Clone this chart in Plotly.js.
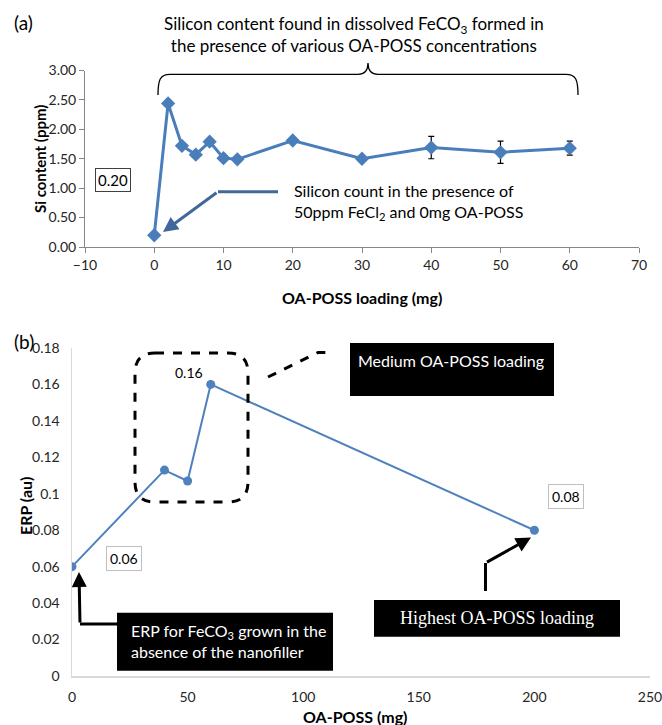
<!DOCTYPE html>
<html>
<head>
<meta charset="utf-8">
<script src="https://cdn.plot.ly/plotly-3.0.1.min.js"></script>
<style>html,body{margin:0;padding:0;background:#fff;}#chart{width:662px;height:725px;}</style>
</head>
<body>
<div id="chart"></div>
<script>
// ---- data ----
const siLoading = [0, 2, 4, 6, 8, 10, 12, 20, 30, 40, 50, 60];
const siContent = [0.20, 2.44, 1.72, 1.57, 1.79, 1.51, 1.49, 1.81, 1.50, 1.69, 1.61, 1.68];
const siError = [null, null, null, null, null, null, null, null, null, 0.19, 0.19, 0.12];
const topXTicks = [-10, 0, 10, 20, 30, 40, 50, 60, 70];
const topYTicks = [0, 0.5, 1, 1.5, 2, 2.5, 3];

const erpLoading = [0, 40, 50, 60, 200];
const erpValue = [0.06, 0.113, 0.107, 0.16, 0.08];
const botXTicks = [0, 50, 100, 150, 200, 250];
const botYTicks = [0, 0.02, 0.04, 0.06, 0.08, 0.1, 0.12, 0.14, 0.16, 0.18];

// ---- helpers (pixel -> paper) ----
const W = 662, H = 725;
const fx = x => x / W;
const fy = y => 1 - y / H;
const P = (x, y) => fx(x) + ',' + fy(y);
const FONT = 'Lato, "Open Sans", sans-serif';

const traces = [
  {
    x: siLoading, y: siContent, xaxis: 'x', yaxis: 'y', type: 'scatter', mode: 'lines+markers',
    line: {color: '#4a7ebb', width: 3},
    marker: {symbol: 'diamond', size: 11, color: '#4a7ebb'},
    error_y: {type: 'data', array: siError, visible: true, color: '#000', thickness: 1.2, width: 3},
    hoverinfo: 'x+y'
  },
  {
    x: erpLoading, y: erpValue, xaxis: 'x2', yaxis: 'y2', type: 'scatter', mode: 'lines+markers',
    line: {color: '#4f81bd', width: 2},
    marker: {symbol: 'circle', size: 9, color: '#4f81bd'},
    hoverinfo: 'x+y'
  }
];

const tickFont = {family: FONT, size: 14, color: '#262626'};

function txt(x, y, text, opts) {
  return Object.assign({xref: 'paper', yref: 'paper', x: fx(x), y: fy(y), text: text,
    showarrow: false, xanchor: 'center', yanchor: 'middle'}, opts || {});
}

const layout = {
  width: W, height: H,
  margin: {l: 0, r: 0, t: 0, b: 0},
  paper_bgcolor: '#fff', plot_bgcolor: '#fff',
  showlegend: false,
  font: {family: FONT},
  xaxis: {
    domain: [fx(85), fx(639)], range: [-10, 70], anchor: 'y',
    tickvals: topXTicks, showgrid: false, zeroline: false,
    showline: true, linecolor: '#868686', linewidth: 1,
    ticks: 'outside', ticklen: 5, tickcolor: '#868686',
    tickfont: tickFont, ticklabeloverflow: 'allow'
  },
  yaxis: {
    domain: [fy(247), fy(70.5)], range: [0, 3], anchor: 'x',
    tickvals: topYTicks, tickformat: '.2f', showgrid: false, zeroline: false,
    showline: true, linecolor: '#868686', linewidth: 1,
    ticks: 'outside', ticklen: 5, tickcolor: '#868686',
    tickfont: tickFont
  },
  xaxis2: {
    domain: [fx(72), fx(650)], range: [0, 250], anchor: 'y2',
    tickvals: botXTicks, showgrid: false, zeroline: false,
    showline: true, linecolor: '#d9d9d9', linewidth: 1.5,
    ticks: '', ticklabelstandoff: 8,
    tickfont: tickFont, ticklabeloverflow: 'allow'
  },
  yaxis2: {
    domain: [fy(676), fy(348)], range: [0, 0.18], anchor: 'x2',
    tickvals: botYTicks, showgrid: false, zeroline: false,
    showline: true, linecolor: '#d9d9d9', linewidth: 1.5,
    ticks: '', ticklabelstandoff: 8,
    tickfont: tickFont
  },
  shapes: [
    // curly bracket
    {type: 'path', xref: 'paper', yref: 'paper', line: {color: '#000', width: 1.3},
     path: 'M' + P(158, 95) + ' C' + P(158, 80) + ' ' + P(160, 74.3) + ' ' + P(170, 74.3) +
           ' L' + P(358, 74.3) + ' C' + P(365, 74.3) + ' ' + P(368, 70) + ' ' + P(368, 63) +
           ' C' + P(368, 70) + ' ' + P(371, 74.3) + ' ' + P(378, 74.3) +
           ' L' + P(566, 74.3) + ' C' + P(576, 74.3) + ' ' + P(578, 80) + ' ' + P(578, 95)},
    // top arrow horizontal part
    {type: 'path', xref: 'paper', yref: 'paper', line: {color: '#41689b', width: 3},
     path: 'M' + P(278, 191.7) + ' L' + P(218, 191.7)},
    // dashed rounded rectangle
    {type: 'path', xref: 'paper', yref: 'paper', line: {color: '#000', width: 3, dash: 'dash'},
     path: 'M' + P(155, 353) + ' L' + P(228, 353) + ' Q' + P(248, 353) + ' ' + P(248, 373) +
           ' L' + P(248, 482) + ' Q' + P(248, 502) + ' ' + P(228, 502) +
           ' L' + P(155, 502) + ' Q' + P(135, 502) + ' ' + P(135, 482) +
           ' L' + P(135, 373) + ' Q' + P(135, 353) + ' ' + P(155, 353) + ' Z'},
    // dashed connector
    {type: 'path', xref: 'paper', yref: 'paper', line: {color: '#000', width: 3, dash: 'dash'},
     path: 'M' + P(268, 377) + ' L' + P(318, 352.5) + ' L' + P(334, 352.5)},
    // black boxes
    {type: 'rect', xref: 'paper', yref: 'paper', x0: fx(350), x1: fx(554), y0: fy(343), y1: fy(396),
     fillcolor: '#000', line: {width: 0}},
    {type: 'rect', xref: 'paper', yref: 'paper', x0: fx(117), x1: fx(333), y0: fy(612.7), y1: fy(670.7),
     fillcolor: '#000', line: {width: 0}},
    {type: 'rect', xref: 'paper', yref: 'paper', x0: fx(374), x1: fx(620), y0: fy(600), y1: fy(636.7),
     fillcolor: '#000', line: {width: 0}},
    // bottom arrows, straight parts
    {type: 'path', xref: 'paper', yref: 'paper', line: {color: '#000', width: 3},
     path: 'M' + P(117, 624) + ' L' + P(80, 624)},
    {type: 'path', xref: 'paper', yref: 'paper', line: {color: '#000', width: 3},
     path: 'M' + P(485.5, 591) + ' L' + P(485.5, 563)}
  ],
  annotations: [
    // panel labels
    txt(23, 23, '(a)', {font: {family: FONT, size: 19, color: '#000'}}),
    txt(24, 341, '(b)', {font: {family: FONT, size: 19, color: '#000'}}),
    // title top
    txt(354, 34, 'Silicon content found in dissolved FeCO<sub>3</sub> formed in<br>the presence of various OA-POSS concentrations',
      {font: {family: FONT, size: 17, color: '#000'}, align: 'center'}),
    // axis titles
    txt(40, 159, '<b>Si content (ppm)</b>', {textangle: -90, font: {family: FONT, size: 15, color: '#000'}}),
    txt(362, 297, '<b>OA-POSS loading (mg)</b>', {font: {family: FONT, size: 16, color: '#000'}}),
    txt(25, 506, '<b>ERP (au)</b>', {textangle: -90, font: {family: FONT, size: 16, color: '#000'}}),
    txt(355, 716, '<b>OA-POSS (mg)</b>', {font: {family: FONT, size: 16, color: '#000'}}),
    // value labels
    txt(113.5, 180, '0.20', {font: {family: FONT, size: 15, color: '#000'}, bordercolor: '#404040', borderwidth: 1, borderpad: 2, bgcolor: '#fff'}),
    txt(124, 558, '0.06', {font: {family: FONT, size: 14, color: '#000'}, bordercolor: '#bfbfbf', borderwidth: 1, borderpad: 3, bgcolor: '#fff'}),
    txt(566, 496.5, '0.08', {font: {family: FONT, size: 14, color: '#000'}, bordercolor: '#bfbfbf', borderwidth: 1, borderpad: 3, bgcolor: '#fff'}),
    txt(189, 372, '0.16', {font: {family: FONT, size: 14, color: '#000'}}),
    // top annotation text
    txt(292, 202, 'Silicon count in the presence of<br>50ppm FeCl<sub>2</sub> and 0mg OA-POSS',
      {xanchor: 'left', align: 'left', font: {family: FONT, size: 16, color: '#000'}}),
    // top arrow head
    {xref: 'paper', yref: 'paper', x: fx(163), y: fy(232), ax: 55, ay: -40.3, text: '',
     showarrow: true, arrowhead: 2, arrowsize: 1, arrowwidth: 3, arrowcolor: '#41689b'},
    // box texts
    txt(451, 360, 'Medium OA-POSS loading', {font: {family: FONT, size: 16, color: '#fff'}}),
    txt(129, 641, 'ERP for FeCO<sub>3</sub> grown in the<br>absence of the nanofiller',
      {xanchor: 'left', align: 'left', font: {family: FONT, size: 16, color: '#fff'}}),
    txt(497, 618, 'Highest OA-POSS loading', {font: {family: '"Liberation Serif", "Times New Roman", serif', size: 18, color: '#fff'}}),
    // bottom arrow heads
    {xref: 'paper', yref: 'paper', x: fx(79), y: fy(572), ax: 1, ay: 52, text: '',
     showarrow: true, arrowhead: 2, arrowsize: 1, arrowwidth: 3, arrowcolor: '#000'},
    {xref: 'paper', yref: 'paper', x: fx(531), y: fy(537.5), ax: -45.5, ay: 25.5, text: '',
     showarrow: true, arrowhead: 2, arrowsize: 1, arrowwidth: 3, arrowcolor: '#000'}
  ]
};

Plotly.newPlot('chart', traces, layout, {displayModeBar: false, staticPlot: true});
</script>
</body>
</html>
